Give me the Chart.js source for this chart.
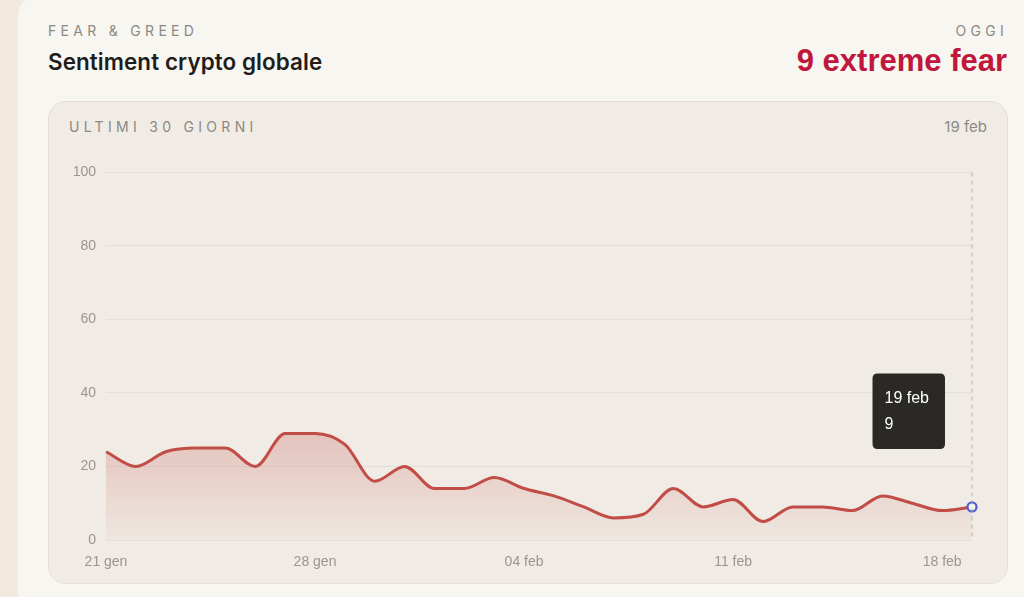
<!DOCTYPE html>
<html><head><meta charset="utf-8">
<script src="https://cdn.jsdelivr.net/npm/chart.js@4.4.1/dist/chart.umd.min.js"></script>
<style>
html,body{margin:0;padding:0;width:1024px;height:597px;overflow:hidden;background:#f1e9de;font-family:"Liberation Sans",Arial,sans-serif;}
#card{position:absolute;left:18px;top:-6px;width:1040px;height:620px;background:#f8f6f1;border-radius:22px;}
.kicker{position:absolute;font-family:Inter,"DejaVu Sans",sans-serif;font-size:14px;letter-spacing:4.3px;color:#8c8982;}
#t1{left:48px;top:22px;}
#t2{position:absolute;left:48px;top:48px;font-family:Inter,sans-serif;font-weight:600;font-size:22.4px;color:#1e1d1a;letter-spacing:0.1px;}
#oggi{right:16px;top:22px;}
#val{position:absolute;right:17px;top:43px;font-size:31px;color:#c0173d;font-family:"Liberation Sans",Arial,sans-serif;font-weight:bold;}
#panel{position:absolute;left:48px;top:101px;width:958px;height:481px;background:#f0ece5;border:1px solid #e4ded4;border-radius:18px;}
#t3{left:69px;top:118px;}
#date{position:absolute;right:37px;top:117px;font-family:Inter,sans-serif;font-size:15px;color:#8c8982;}
#wrap{position:absolute;left:56px;top:154px;width:930px;height:426px;}
</style></head>
<body>
<div id="card"></div>
<div class="kicker" id="t1">FEAR &amp; GREED</div>
<div id="t2">Sentiment crypto globale</div>
<div class="kicker" id="oggi">OGGI</div>
<div id="val">9 extreme fear</div>
<div id="panel"></div>
<div class="kicker" id="t3">ULTIMI 30 GIORNI</div>
<div id="date">19 feb</div>
<div id="wrap"><canvas id="c" width="930" height="426"></canvas></div>
<script>
const labels = ["21 gen","22 gen","23 gen","24 gen","25 gen","26 gen","27 gen","28 gen","29 gen","30 gen","31 gen",
  "01 feb","02 feb","03 feb","04 feb","05 feb","06 feb","07 feb","08 feb","09 feb","10 feb",
  "11 feb","12 feb","13 feb","14 feb","15 feb","16 feb","17 feb","18 feb","19 feb"];
const values = [24,20,24,25,25,20,29,29,26,16,20,14,14,17,14,12,9,6,7,14,9,11,5,9,9,8,12,10,8,9];
const shownTicks = ["21 gen","28 gen","04 feb","11 feb","18 feb"];
const yTicks = [0,20,40,60,80,100];

Chart.Tooltip.positioners.custom = function(items){
  if(!items.length) return false;
  const el = items[0].element;
  return {x: el.x - 32, y: el.y - 58, xAlign:'right', yAlign:'bottom'};
};

const hoverLine = {
  id:'hoverLine',
  afterDatasetsDraw(chart){
    const act = chart.getActiveElements();
    if(!act.length) return;
    const x = act[0].element.x;
    const {ctx, chartArea} = chart;
    ctx.save();
    ctx.strokeStyle = '#b5b0a7';
    ctx.lineWidth = 1;
    ctx.setLineDash([4,4]);
    ctx.beginPath();
    ctx.moveTo(x, chartArea.top);
    ctx.lineTo(x, chartArea.bottom);
    ctx.stroke();
    ctx.restore();
  }
};

const chart = new Chart(document.getElementById('c'), {
  type:'line',
  data:{labels, datasets:[{
    data: values,
    borderColor:'#c24d46',
    borderWidth:3,
    cubicInterpolationMode:'monotone',
    clip:false,
    pointRadius:0,
    pointHoverRadius:4.5,
    pointHoverBorderWidth:2.2,
    pointHoverBorderColor:'#4a5bd4',
    pointHoverBackgroundColor:'#f5f3ee',
    fill:true,
    backgroundColor(ctx){
      const ca = ctx.chart.chartArea;
      if(!ca) return 'rgba(196,80,74,0.15)';
      const y30 = ctx.chart.scales.y.getPixelForValue(30);
      const g = ctx.chart.ctx.createLinearGradient(0, y30, 0, ca.bottom);
      g.addColorStop(0,'rgba(196,80,74,0.27)');
      g.addColorStop(1,'rgba(196,80,74,0.03)');
      return g;
    }
  }]},
  options:{
    responsive:false,
    animation:false,
    layout:{padding:{top:7,right:14,left:0,bottom:0}},
    interaction:{mode:'index',intersect:false},
    plugins:{
      legend:{display:false},
      tooltip:{
        enabled:true,
        position:'custom',
        backgroundColor:'#2b2926',
        titleColor:'#ffffff',
        bodyColor:'#ffffff',
        titleFont:{family:'"Liberation Sans", Arial, sans-serif',size:16,weight:'normal'},
        bodyFont:{family:'"Liberation Sans", Arial, sans-serif',size:16},
        titleMarginBottom:7,
        padding:{left:12,right:16,top:15,bottom:15},
        cornerRadius:5,
        caretSize:0,
        caretPadding:0,
        displayColors:false,
        callbacks:{label:(c)=>String(c.parsed.y)}
      }
    },
    scales:{
      x:{
        grid:{display:false,drawTicks:false},
        border:{display:false},
        ticks:{
          autoSkip:false,maxRotation:0,padding:14,color:'#9a968e',
          font:{family:'"Liberation Sans", Arial, sans-serif',size:14},
          callback(v,i){ const l = labels[i]; return shownTicks.includes(l) ? l : ''; }
        },
        afterFit(s){ s.height = 40; }
      },
      y:{
        min:0,max:100,
        grid:{color:'rgba(120,110,95,0.10)',drawTicks:false,lineWidth:1},
        border:{display:false},
        afterBuildTicks(s){ s.ticks = yTicks.map(v=>({value:v})); },
        ticks:{padding:10,color:'#9a968e',font:{family:'"Liberation Sans", Arial, sans-serif',size:14}},
        afterFit(s){ s.width = 50; }
      }
    }
  },
  plugins:[hoverLine]
});

const last = values.length - 1;
const el = chart.getDatasetMeta(0).data[last];
chart.setActiveElements([{datasetIndex:0,index:last}]);
chart.tooltip.setActiveElements([{datasetIndex:0,index:last}], {x:el.x, y:el.y});
chart.update();
</script>
</body></html>
